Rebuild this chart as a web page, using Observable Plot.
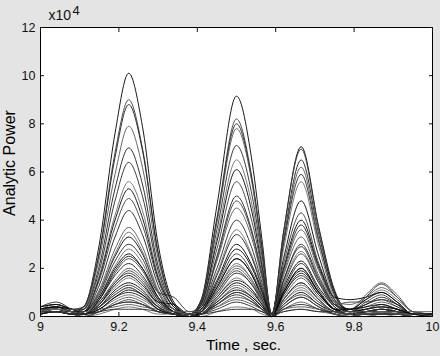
<!DOCTYPE html>
<html>
<head>
<meta charset="utf-8">
<script src="https://cdn.jsdelivr.net/npm/d3@7"></script>
<script src="https://cdn.jsdelivr.net/npm/@observablehq/plot@0.6"></script>
<style>
  html, body { margin: 0; padding: 0; background: #e4e4e4; }
  #chart { width: 440px; height: 356px; }
</style>
</head>
<body>
<div id="chart"></div>
<script>
// Time samples (s)
const times = [9.00, 9.04, 9.08, 9.11, 9.15, 9.19, 9.225, 9.26, 9.30, 9.34, 9.38, 9.41, 9.45, 9.50, 9.54, 9.565, 9.59, 9.62, 9.665, 9.71, 9.75, 9.79, 9.83, 9.87, 9.91, 9.95, 10.00];

// Analytic power (x10^4) for each trace
const c01 = [0.3,0.3,0.2,0.4,3.0,7.6,10.1,7.9,3.0,0.6,0.1, 0.7,4.6,9.15,6.4,3.2,0.1, 3.5,7.05,3.7,1.1,0.2, 0.2,0.2,0.2,0.1,0.1];
const c02 = [0.2,0.3,0.2,0.4,2.7,6.8,9.0,7.0,2.7,0.5,0.1, 0.7,4.1,8.2,5.7,2.9,0.1, 3.5,6.95,3.6,1.0,0.2, 0.2,0.3,0.2,0.1,0.1];
const c03 = [0.3,0.4,0.3,0.4,2.6,6.6,8.8,6.9,2.6,0.5,0.1, 0.6,4.0,8.0,5.6,2.8,0.1, 3.2,6.5,3.4,1.0,0.2, 0.3,0.4,0.3,0.1,0.1];
const c04 = [0.2,0.2,0.1,0.3,2.4,5.9,7.9,6.2,2.4,0.5,0.1, 0.6,3.9,7.8,5.5,2.7,0.1, 3.1,6.2,3.2,0.9,0.3, 0.9,1.4,0.9,0.2,0.1];
const c05 = [0.4,0.5,0.3,0.3,1.9,4.8,6.4,5.0,1.9,0.4,0.1, 0.6,3.6,7.1,5.0,2.5,0.1, 3.0,5.9,3.1,0.9,0.2, 0.8,1.35,0.8,0.2,0.1];
const c06 = [0.2,0.3,0.2,0.2,1.7,4.2,5.6,4.4,1.7,0.4,0.1, 0.5,3.3,6.5,4.6,2.3,0.1, 2.8,5.6,2.9,0.8,0.3, 0.7,1.1,0.7,0.2,0.1];
const c07 = [0.3,0.3,0.2,0.2,1.6,4.0,5.3,4.1,1.6,0.4,0.1, 0.5,3.1,6.1,4.3,2.1,0.1, 2.4,4.8,2.5,0.7,0.3, 0.7,1.0,0.6,0.1,0.1];
const c08 = [0.1,0.2,0.1,0.2,1.5,3.7,4.9,3.8,1.5,0.3,0.1, 0.5,2.8,5.6,3.9,2.0,0.1, 2.2,4.3,2.2,0.7,0.2, 0.6,0.9,0.5,0.1,0.1];
const c09 = [0.2,0.4,0.2,0.2,1.3,3.3,4.4,3.4,1.3,0.3,0.1, 0.4,2.5,5.0,3.5,1.8,0.1, 1.9,3.8,2.0,0.6,0.2, 0.5,0.7,0.5,0.1,0.1];
const c10 = [0.3,0.5,0.3,0.2,1.1,2.8,3.7,2.9,1.1,0.3,0.1, 0.4,2.3,4.5,3.2,1.6,0.1, 1.7,3.3,1.7,0.5,0.2, 0.4,0.6,0.4,0.1,0.1];
const c11 = [0.2,0.3,0.2,0.2,0.9,2.3,3.0,2.4,1.0,0.8,0.2, 0.4,2.0,4.0,2.8,1.4,0.1, 1.5,3.0,1.6,0.5,0.2, 0.3,0.5,0.3,0.1,0.1];
const c12 = [0.1,0.2,0.1,0.1,0.8,2.1,2.8,2.2,0.8,0.2,0.0, 0.3,1.8,3.6,2.5,1.3,0.1, 1.4,2.7,1.4,0.4,0.1, 0.3,0.4,0.2,0.1,0.1];
const c13 = [0.3,0.4,0.3,0.2,0.8,2.0,2.6,2.0,0.8,0.3,0.1, 0.3,1.5,3.0,2.1,1.1,0.1, 1.2,2.3,1.2,0.4,0.1, 0.2,0.3,0.2,0.1,0.1];
const c14 = [0.2,0.2,0.1,0.1,0.7,1.8,2.4,1.9,0.7,0.2,0.1, 0.3,1.3,2.6,1.8,0.9,0.1, 1.0,2.0,1.0,0.3,0.1, 0.2,0.3,0.2,0.1,0.1];
const c15 = [0.1,0.2,0.1,0.1,0.7,1.7,2.2,1.7,0.7,0.2,0.0, 0.2,1.2,2.4,1.7,0.8,0.0, 0.9,1.8,0.9,0.3,0.1, 0.2,0.2,0.2,0.1,0.0];
const c16 = [0.3,0.4,0.2,0.1,0.6,1.5,2.0,1.6,0.6,0.2,0.1, 0.2,1.1,2.1,1.5,0.7,0.1, 0.8,1.6,0.8,0.3,0.1, 0.2,0.3,0.2,0.1,0.1];
const c17 = [0.2,0.3,0.2,0.1,0.5,1.4,1.8,1.4,0.5,0.2,0.1, 0.2,0.9,1.8,1.3,0.6,0.0, 0.7,1.4,0.7,0.2,0.1, 0.1,0.2,0.1,0.1,0.0];
const c18 = [0.1,0.2,0.1,0.1,0.5,1.2,1.6,1.2,0.5,0.1,0.0, 0.1,0.8,1.6,1.1,0.6,0.0, 0.6,1.2,0.6,0.2,0.1, 0.1,0.2,0.1,0.1,0.0];
const c19 = [0.2,0.3,0.2,0.1,0.4,1.1,1.4,1.1,0.4,0.1,0.0, 0.1,0.7,1.4,1.0,0.5,0.0, 0.5,1.0,0.5,0.2,0.1, 0.1,0.1,0.1,0.1,0.0];
const c20 = [0.1,0.2,0.1,0.1,0.4,0.9,1.2,0.9,0.4,0.1,0.0, 0.1,0.6,1.2,0.8,0.4,0.0, 0.5,0.9,0.5,0.1,0.0, 0.1,0.1,0.1,0.0,0.0];
const c21 = [0.2,0.2,0.1,0.1,0.3,0.8,1.0,0.8,0.3,0.1,0.0, 0.1,0.5,1.0,0.7,0.3,0.0, 0.4,0.8,0.4,0.1,0.0, 0.1,0.1,0.1,0.0,0.0];
const c22 = [0.3,0.3,0.2,0.1,0.2,0.6,0.8,0.6,0.2,0.1,0.0, 0.1,0.4,0.8,0.6,0.3,0.0, 0.3,0.6,0.3,0.1,0.0, 0.1,0.1,0.1,0.0,0.0];
const c23 = [0.2,0.2,0.1,0.0,0.2,0.5,0.6,0.5,0.2,0.1,0.0, 0.1,0.3,0.6,0.4,0.2,0.0, 0.3,0.5,0.3,0.1,0.0, 0.0,0.1,0.1,0.0,0.0];
const c24 = [0.1,0.2,0.1,0.0,0.1,0.3,0.4,0.3,0.1,0.1,0.0, 0.0,0.2,0.4,0.3,0.1,0.0, 0.2,0.3,0.2,0.1,0.0, 0.0,0.1,0.0,0.0,0.0];
const c25 = [0.4,0.5,0.3,0.2,1.0,2.5,3.3,2.6,1.0,0.2,0.1, 0.2,1.2,2.4,1.7,0.8,0.1, 2.0,4.0,2.1,0.8,0.7, 0.8,1.0,0.6,0.1,0.1];
const c26 = [0.2,0.3,0.2,0.1,0.6,1.4,1.9,1.5,0.6,0.2,0.1, 0.4,2.4,4.8,3.4,1.7,0.1, 1.3,2.6,1.4,0.5,0.6, 0.6,0.7,0.4,0.1,0.1];
const c27 = [0.3,0.4,0.2,0.3,2.1,5.3,7.0,5.5,2.1,0.5,0.1, 0.3,1.7,3.4,2.4,1.2,0.1, 1.1,2.2,1.1,0.3,0.1, 0.2,0.3,0.2,0.1,0.1];
const c28 = [0.1,0.2,0.1,0.1,0.4,0.9,1.2,0.9,0.4,0.1,0.0, 0.2,1.0,2.0,1.4,0.7,0.1, 1.8,3.6,1.9,0.6,0.5, 0.8,1.2,0.8,0.2,0.1];
const c29 = [0.4,0.6,0.3,0.1,0.4,1.0,1.3,1.0,0.4,0.1,0.0, 0.1,0.5,0.9,0.6,0.3,0.0, 0.9,1.7,0.9,0.3,0.1, 0.2,0.3,0.2,0.1,0.0];
const c30 = [0.2,0.3,0.2,0.1,0.3,0.7,0.9,0.7,0.3,0.1,0.0, 0.1,0.7,1.3,0.9,0.4,0.0, 0.6,1.1,0.6,0.2,0.1, 0.1,0.2,0.1,0.1,0.0];
const c31 = [0.3,0.4,0.2,0.1,0.5,1.3,1.7,1.3,0.6,0.5,0.1, 0.1,0.6,1.1,0.8,0.4,0.0, 1.0,2.0,1.0,0.3,0.2, 0.3,0.4,0.3,0.1,0.1];
const c32 = [0.2,0.2,0.1,0.0,0.2,0.5,0.7,0.5,0.2,0.1,0.0, 0.2,1.0,1.9,1.3,0.7,0.0, 0.4,0.8,0.4,0.1,0.1, 0.1,0.2,0.1,0.0,0.0];
const c33 = [0.3,0.3,0.2,0.1,0.7,1.9,2.5,2.0,0.8,0.2,0.0, 0.1,0.8,1.5,1.1,0.5,0.0, 1.5,2.9,1.5,0.5,0.3, 0.5,0.8,0.5,0.1,0.1];
const c34 = [0.3,0.3,0.3,0.2,0.3,0.4,0.5,0.4,0.3,0.2,0.2, 0.2,0.4,0.7,0.5,0.3,0.1, 0.3,0.4,0.3,0.2,0.2, 0.2,0.2,0.2,0.2,0.2];
const c35 = [0.2,0.2,0.2,0.1,0.2,0.3,0.3,0.3,0.2,0.1,0.1, 0.1,0.2,0.3,0.3,0.2,0.1, 0.2,0.3,0.2,0.2,0.1, 0.1,0.1,0.1,0.1,0.1];
const c36 = [0.2,0.3,0.2,0.1,1.0,2.6,3.5,2.7,1.0,0.3,0.1, 0.2,1.1,2.2,1.5,0.8,0.0, 0.7,1.3,0.7,0.2,0.1, 0.1,0.2,0.1,0.1,0.0];
const c37 = [0.1,0.2,0.1,0.1,0.3,0.8,1.1,0.9,0.3,0.1,0.0, 0.2,1.4,2.8,2.0,1.0,0.0, 1.0,1.9,1.0,0.3,0.3, 0.4,0.5,0.3,0.1,0.0];
const c38 = [0.2,0.2,0.1,0.1,0.2,0.5,0.6,0.5,0.2,0.1,0.0, 0.1,0.5,1.0,0.7,0.3,0.0, 0.7,1.4,0.7,0.2,0.1, 0.1,0.1,0.1,0.0,0.0];

const traces = [c01,c02,c03,c04,c05,c06,c07,c08,c09,c10,c11,c12,c13,c14,c15,c16,c17,c18,c19,
                c20,c21,c22,c23,c24,c25,c26,c27,c28,c29,c30,c31,c32,c33,c34,c35,c36,c37,c38];
const xTicks = [9, 9.2, 9.4, 9.6, 9.8, 10];
const yTicks = [0, 2, 4, 6, 8, 10, 12];
const xLabel = "Time , sec.";
const yLabel = "Analytic Power";
const lineColors = ["#000000", "#3a3a3a", "#1a1a1a", "#555555", "#262626", "#6a6a6a"];

const rows = traces.flatMap((vals, i) => vals.map((v, j) => ({trace: i, t: times[j], p: v})));

const chart = Plot.plot({
  width: 440,
  height: 356,
  marginLeft: 40,
  marginRight: 8,
  marginTop: 27,
  marginBottom: 40,
  style: {background: "#e4e4e4", fontFamily: "'Liberation Sans', Arial, sans-serif", color: "#111"},
  x: {domain: [9, 10]},
  y: {domain: [0, 12]},
  marks: [
    Plot.frame({fill: "white", stroke: null}),
    Plot.line(rows, {
      x: "t", y: "p", z: "trace",
      stroke: d => lineColors[d.trace % lineColors.length],
      strokeWidth: 0.9,
      curve: "monotone-x"
    }),
    Plot.frame({stroke: "black", strokeWidth: 1}),
    Plot.axisX({anchor: "bottom", ticks: xTicks, tickSize: -4, tickPadding: 10, fontSize: 12.5,
      tickFormat: d => String(d), label: null}),
    Plot.axisX({anchor: "top", ticks: xTicks, tickSize: -4, tickFormat: () => "", label: null}),
    Plot.axisY({anchor: "left", ticks: yTicks, tickSize: -4, tickPadding: 9, fontSize: 12.5,
      tickFormat: d => String(d), label: null}),
    Plot.axisY({anchor: "right", ticks: yTicks, tickSize: -4, tickFormat: () => "", label: null}),
    Plot.text([xLabel], {frameAnchor: "bottom", textAnchor: "middle", lineAnchor: "middle",
      dx: 7, dy: 29, fontSize: 15.5, fill: "#000"}),
    Plot.text([yLabel], {frameAnchor: "left", textAnchor: "middle", lineAnchor: "middle",
      rotate: -90, dx: -31, dy: -9, fontSize: 16, fill: "#000"}),
    Plot.text(["x10"], {frameAnchor: "top-left", dx: 8, dy: -17, fontSize: 14, textAnchor: "start"}),
    Plot.text(["4"], {frameAnchor: "top-left", dx: 32, dy: -22, fontSize: 13, textAnchor: "start"})
  ]
});
document.getElementById("chart").appendChild(chart);
</script>
</body>
</html>
